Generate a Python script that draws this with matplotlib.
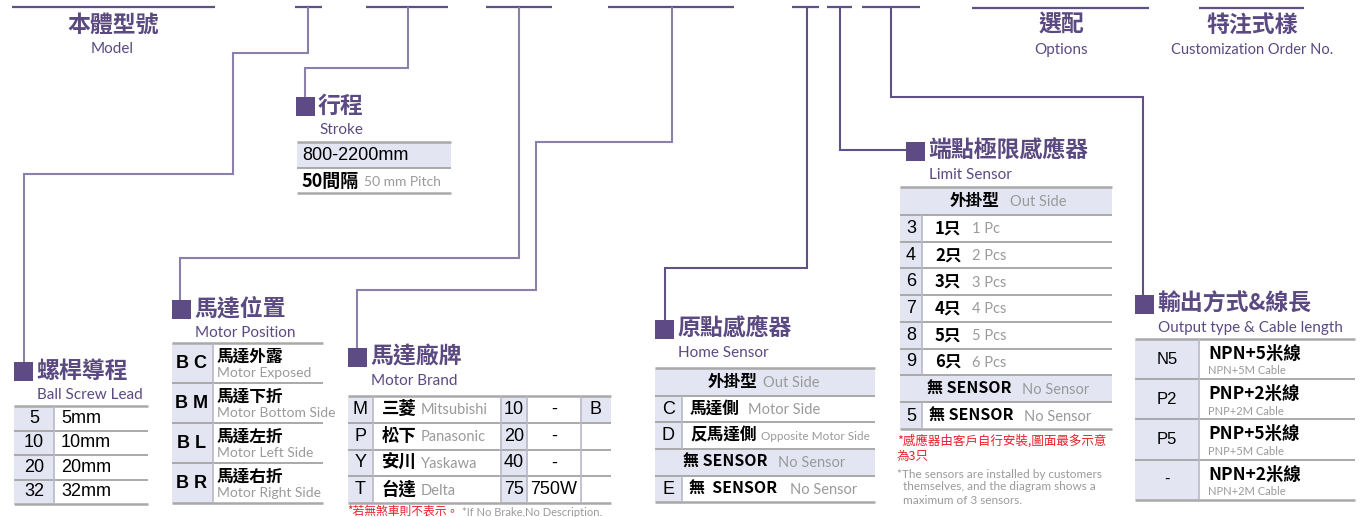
import matplotlib
matplotlib.use('Agg')
import matplotlib.pyplot as plt
from matplotlib.patches import Rectangle

# ---- data ----
lead_codes = ['5', '10', '20', '32']
lead_labels = ['5mm', '10mm', '20mm', '32mm']

stroke_range = '800-2200mm'
stroke_step_cn = '50間隔'
stroke_step_en = '50 mm Pitch'

position_codes = ['BC', 'BM', 'BL', 'BR']
position_cn = ['馬達外露', '馬達下折', '馬達左折', '馬達右折']
position_en = ['Motor Exposed', 'Motor Bottom Side', 'Motor Left Side', 'Motor Right Side']

brand_codes = ['M', 'P', 'Y', 'T']
brand_cn = ['三菱', '松下', '安川', '台達']
brand_en = ['Mitsubishi', 'Panasonic', 'Yaskawa', 'Delta']
power_codes = ['10', '20', '40', '75']
power_labels = ['-', '-', '-', '750W']
brake_code = 'B'

home_codes = ['C', 'D']
home_cn = ['馬達側', '反馬達側']
home_en = ['Motor Side', 'Opposite Motor Side']
home_none_code = 'E'

limit_codes = ['3', '4', '6', '7', '8', '9']
limit_cn = ['1只', '2只', '3只', '4只', '5只', '6只']
limit_en = ['1 Pc', '2 Pcs', '3 Pcs', '4 Pcs', '5 Pcs', '6 Pcs']
limit_none_code = '5'

output_codes = ['N5', 'P2', 'P5', '-']
output_cn = ['NPN+5米線', 'PNP+2米線', 'PNP+5米線', 'NPN+2米線']
output_en = ['NPN+5M Cable', 'PNP+2M Cable', 'PNP+5M Cable', 'NPN+2M Cable']

# ---- styles ----
PURPLE = '#5b4a82'
SQUARE = '#5e4b86'
LINK_LIGHT = '#8a80aa'
LINK_DARK = '#5f5088'
SHADE = '#e4e5f3'
GRID = '#a9a9a9'
GRAY_TXT = '#9a9a9a'
RED = '#e8202a'
CJK = ['Noto Sans CJK TC', 'DejaVu Sans']
LAT = ['Liberation Sans', 'Noto Sans CJK TC']
THIN = ['Lato', 'Noto Sans CJK TC']

fig = plt.figure(figsize=(13.7, 5.17), dpi=100)
ax = fig.add_axes([0, 0, 1, 1])
ax.set_xlim(0, 1370)
ax.set_ylim(517, 0)
ax.axis('off')


def path(xs, ys, color=LINK_LIGHT, lw=1.5):
    ax.plot(xs, ys, color=color, lw=lw, solid_capstyle='butt', solid_joinstyle='miter')


def shade(x0, y0, x1, y1):
    ax.add_patch(Rectangle((x0, y0), x1 - x0, y1 - y0, facecolor=SHADE, edgecolor='none'))


def hrule(x0, x1, y, lw=1.4, color=GRID):
    ax.plot([x0, x1], [y, y], color=color, lw=lw, solid_capstyle='butt')


def vrule(x, y0, y1, lw=1.2, color='#b8b8c8'):
    ax.plot([x, x], [y0, y1], color=color, lw=lw, solid_capstyle='butt')


def txt(x, y, s, size, family=CJK, color='black', ha='left', weight='normal', **kw):
    ax.text(x, y, s, fontsize=size, family=family, color=color, ha=ha, va='center',
            fontweight=weight, **kw)


def section(x, y, cn, en):
    ax.add_patch(Rectangle((x, y), 19, 19, facecolor=SQUARE, edgecolor='none'))
    txt(x + 22, y + 9, cn, 16.5, color=PURPLE, weight='bold')
    txt(x + 23, y + 33, en, 11, family=THIN, color=PURPLE)


# ---- top code segments and connectors ----
for x0, x1 in [(12, 215), (295, 322), (366, 448), (486, 552), (608, 734),
               (792, 819), (827, 852), (862, 920)]:
    path([x0, x1], [7, 7], color=LINK_DARK, lw=1.6)
for x0, x1 in [(972, 1149), (1199, 1304)]:
    path([x0, x1], [8, 8], color=LINK_DARK, lw=1.6)

txt(113, 25, '本體型號', 16.5, color=PURPLE, ha='center', weight='bold')
txt(112, 49, 'Model', 11, family=THIN, color=PURPLE, ha='center')
txt(1061, 25, '選配', 16.5, color=PURPLE, ha='center', weight='bold')
txt(1061, 50, 'Options', 11, family=THIN, color=PURPLE, ha='center')
txt(1252, 25, '特注式樣', 16.5, color=PURPLE, ha='center', weight='bold')
txt(1252, 50, 'Customization Order No.', 10.5, family=THIN, color=PURPLE, ha='center')

path([308, 308, 233, 233, 24, 24], [7, 53, 53, 174, 174, 362])
path([408, 408, 305, 305], [7, 68, 68, 97])
path([519, 519, 180, 180], [7, 258, 258, 300])
path([672, 672, 536, 536, 357, 357], [7, 142, 142, 290, 290, 348])
path([807, 807, 665, 665], [7, 268, 268, 320], color=LINK_DARK)
path([840, 840, 906], [7, 150, 150], color=LINK_DARK)
path([891, 891, 1143, 1143], [7, 97, 97, 295], color=LINK_DARK)

# ---- ball screw lead ----
section(14, 362, '螺桿導程', 'Ball Screw Lead')
top, rh = 406, 24.5
shade(14, top, 54, top + rh * len(lead_codes))
for i, (c, lab) in enumerate(zip(lead_codes, lead_labels)):
    yc = top + rh * (i + 0.5)
    txt(34, yc, c, 13, family=LAT, ha='center')
    txt(61, yc, lab, 13, family=LAT)
    hrule(14, 148, top + rh * i, lw=1.8 if i == 0 else 1.4)
hrule(14, 148, top + rh * len(lead_codes), lw=1.8)
vrule(54, top, top + rh * len(lead_codes))

# ---- stroke ----
section(296, 97, '行程', 'Stroke')
shade(297, 142, 451, 168)
hrule(297, 451, 142, lw=1.8)
hrule(297, 451, 168)
hrule(297, 451, 193, lw=1.8)
txt(302, 155, stroke_range, 13, family=LAT)
txt(302, 181, stroke_step_cn, 13, weight='bold')
txt(364, 182, stroke_step_en, 10, family=THIN, color=GRAY_TXT)

# ---- motor position ----
section(172, 300, '馬達位置', 'Motor Position')
top, rh = 343, 40
shade(172, top, 213, top + rh * len(position_codes))
for i in range(len(position_codes)):
    y0 = top + rh * i
    txt(192, y0 + 20, ' '.join(position_codes[i]), 13, family=LAT, ha='center', weight='bold')
    txt(217, y0 + 14, position_cn[i], 12, weight='bold')
    txt(217, y0 + 30, position_en[i], 10, family=THIN, color=GRAY_TXT)
    hrule(172, 323, y0, lw=1.8 if i == 0 else 1.4)
hrule(172, 323, top + rh * len(position_codes), lw=1.8)
vrule(213, top, top + rh * len(position_codes))

# ---- motor brand ----
section(348, 348, '馬達廠牌', 'Motor Brand')
top, rh = 396, 26.75
bot = top + rh * len(brand_codes)
shade(348, top, 373, bot)
shade(501, top, 527, bot)
shade(581, top, 611, top + rh)
for i in range(len(brand_codes)):
    yc = top + rh * (i + 0.5)
    txt(360.5, yc, brand_codes[i], 13, family=LAT, ha='center')
    txt(382, yc, brand_cn[i], 12.5, weight='bold')
    txt(421, yc + 1, brand_en[i], 10.5, family=THIN, color=GRAY_TXT)
    txt(514, yc, power_codes[i], 13, family=LAT, ha='center')
    txt(554, yc, power_labels[i], 13, family=LAT, ha='center')
    hrule(348, 611, top + rh * i, lw=1.8 if i == 0 else 1.4)
txt(596, top + rh * 0.5, brake_code, 13, family=LAT, ha='center')
hrule(348, 611, bot, lw=1.8)
for x in (373, 501, 527, 581):
    vrule(x, top, bot)
txt(347, 511, '*若無煞車則不表示。', 8.5, color=RED)
txt(462, 512, '*If No Brake,No Description.', 8, family=THIN, color=GRAY_TXT)

# ---- home sensor ----
section(655, 320, '原點感應器', 'Home Sensor')
x0, x1, xc = 655, 875, 682
rows = [368, 396, 422, 449, 476, 502]
shade(x0, rows[0], x1, rows[1])
shade(x0, rows[3], x1, rows[4])
shade(x0, rows[1], xc, rows[3])
shade(x0, rows[4], xc, rows[5])
txt(708, 382, '外掛型', 12, weight='bold')
txt(763, 383, 'Out Side', 10.5, family=THIN, color=GRAY_TXT)
for i in range(len(home_codes)):
    yc = (rows[1 + i] + rows[2 + i]) / 2
    txt(668.5, yc, home_codes[i], 13, family=LAT, ha='center')
    txt(690, yc, home_cn[i], 12, weight='bold')
    txt(748 if i == 0 else 761, yc + 1, home_en[i], 10.5 if i == 0 else 8.5,
        family=THIN, color=GRAY_TXT)
txt(683, 462, '無 SENSOR', 11.5, weight='bold')
txt(778, 463, 'No Sensor', 10.5, family=THIN, color=GRAY_TXT)
txt(668.5, 489, home_none_code, 13, family=LAT, ha='center')
txt(689, 489, '無  SENSOR', 11.5, weight='bold')
txt(790, 490, 'No Sensor', 10.5, family=THIN, color=GRAY_TXT)
for j, y in enumerate(rows):
    hrule(x0, x1, y, lw=1.8 if j in (0, len(rows) - 1) else 1.4)
vrule(xc, rows[1], rows[3])
vrule(xc, rows[4], rows[5])

# ---- limit sensor ----
section(906, 142, '端點極限感應器', 'Limit Sensor')
x0, x1, xc = 900, 1112, 922
top, rh = 215, 26.7
bot = top + rh * len(limit_codes)
shade(x0, 187, x1, top)
shade(x0, top, xc, bot)
shade(x0, bot, x1, bot + 27)
shade(x0, bot + 27, xc, bot + 54)
txt(950, 201, '外掛型', 12, weight='bold')
txt(1010, 202, 'Out Side', 10.5, family=THIN, color=GRAY_TXT)
hrule(x0, x1, 187, lw=1.8)
for i in range(len(limit_codes)):
    yc = top + rh * (i + 0.5)
    txt(911, yc, limit_codes[i], 13, family=LAT, ha='center')
    txt(935, yc, limit_cn[i], 12, weight='bold')
    txt(972, yc + 1, limit_en[i], 10.5, family=THIN, color=GRAY_TXT)
    hrule(x0, x1, top + rh * i)
hrule(x0, x1, bot)
txt(927, bot + 14, '無 SENSOR', 11.5, weight='bold')
txt(1022, bot + 15, 'No Sensor', 10.5, family=THIN, color=GRAY_TXT)
hrule(x0, x1, bot + 27)
txt(911, bot + 41, limit_none_code, 13, family=LAT, ha='center')
txt(929, bot + 41, '無 SENSOR', 11.5, weight='bold')
txt(1024, bot + 42, 'No Sensor', 10.5, family=THIN, color=GRAY_TXT)
hrule(x0, x1, bot + 54, lw=1.8)
vrule(xc, top, bot)
vrule(xc, bot + 27, bot + 54)
txt(897, 441, '*感應器由客戶自行安裝,圖面最多示意', 9, color=RED)
txt(897, 456, '為3只', 9, color=RED)
txt(897, 474, '*The sensors are installed by customers', 8.5, family=THIN, color=GRAY_TXT)
txt(903, 487, 'themselves, and the diagram shows a', 8.5, family=THIN, color=GRAY_TXT)
txt(903, 500, 'maximum of 3 sensors.', 8.5, family=THIN, color=GRAY_TXT)

# ---- output type ----
section(1135, 295, '輸出方式&線長', 'Output type & Cable length')
x0, x1, xc = 1135, 1355, 1199
top, rh = 339, 40.2
bot = top + rh * len(output_codes)
shade(x0, top, xc, bot)
for i in range(len(output_codes)):
    y0 = top + rh * i
    txt(1167, y0 + 20, output_codes[i], 12, family=LAT, ha='center')
    txt(1208, y0 + 15, output_cn[i], 12.5, weight='bold')
    txt(1208, y0 + 32, output_en[i], 8, family=THIN, color=GRAY_TXT)
    hrule(x0, x1, y0, lw=1.8 if i == 0 else 1.4)
hrule(x0, x1, bot, lw=1.8)
vrule(xc, top, bot)

fig.savefig('out.png', dpi=100)
